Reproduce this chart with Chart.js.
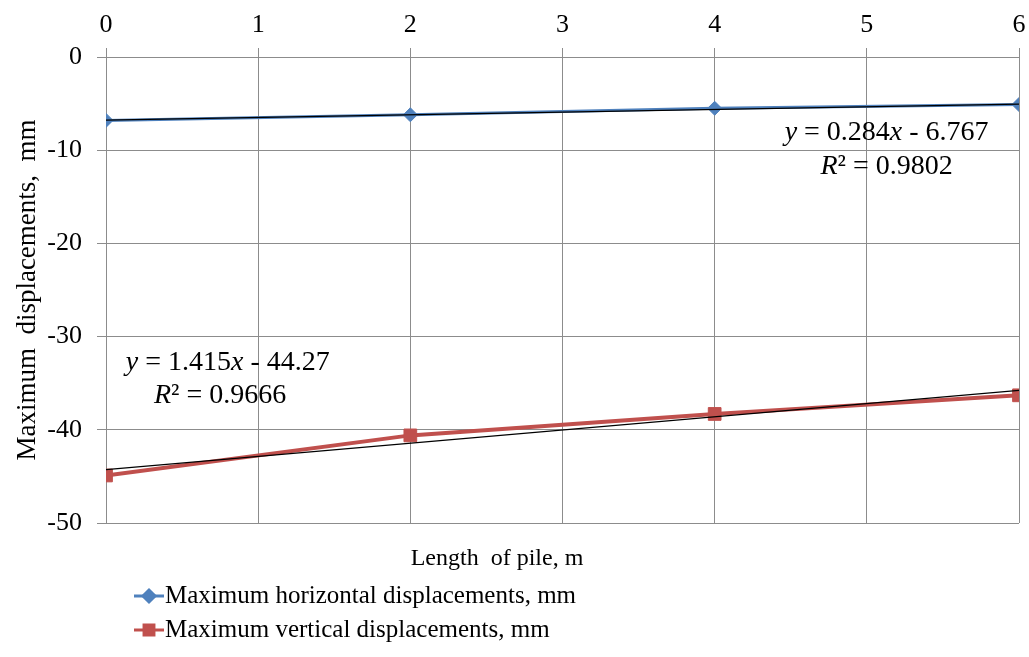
<!DOCTYPE html>
<html>
<head>
<meta charset="utf-8">
<script src="https://cdn.jsdelivr.net/npm/chart.js@4.4.1/dist/chart.umd.min.js"></script>
<style>
  html, body { margin: 0; padding: 0; background: #fff; }
  #wrap { width: 1029px; height: 657px; }
</style>
</head>
<body>
<div id="wrap"><canvas id="chart"></canvas></div>
<script>
// values
const pileLength = [0, 2, 4, 6];
const horizontalDisp = [-6.8, -6.2, -5.5, -5.1];
const verticalDisp = [-44.9, -40.6, -38.3, -36.3];

// linear trendlines (end points from the printed equations)
const trendX = [0, 6];
const horizontalTrend = [-6.767, -5.063];
const verticalTrend = [-44.27, -35.78];

const seriesNames = ['Maximum horizontal displacements, mm', 'Maximum vertical displacements, mm'];
const equations = ['y = 0.284x - 6.767', 'y = 1.415x - 44.27'];
const rSquared = ['R² = 0.9802', 'R² = 0.9666'];
const xTitle = 'Length  of pile, m';
const yTitle = 'Maximum  displacements,  mm';

const FONT = "'Liberation Serif', 'Times New Roman', serif";
const BLUE = '#4F81BD';
const RED = '#C0504D';
const GRID = '#8c8c8c';

const toPoints = (xs, ys) => xs.map((x, i) => ({ x: x, y: ys[i] }));

// draws text with x, y and R in italics, centred on cx
function drawEquation(ctx, text, cx, cy, size) {
  const parts = text.split(/([xyR])/).filter(s => s.length);
  const fontOf = s => (/^[xyR]$/.test(s) ? 'italic ' : '') + size + 'px ' + FONT;
  let total = 0;
  parts.forEach(s => { ctx.font = fontOf(s); total += ctx.measureText(s).width; });
  let x = cx - total / 2;
  ctx.textAlign = 'left';
  ctx.textBaseline = 'middle';
  ctx.fillStyle = '#000';
  parts.forEach(s => {
    ctx.font = fontOf(s);
    ctx.fillText(s, x, cy);
    x += ctx.measureText(s).width;
  });
}

const extras = {
  id: 'extras',
  afterDraw(chart) {
    const ctx = chart.ctx;
    const xs = chart.scales.x, ys = chart.scales.y;
    ctx.save();

    // trendline labels
    drawEquation(ctx, equations[0], xs.getPixelForValue(5.13), ys.getPixelForValue(-8.15), 28);
    drawEquation(ctx, rSquared[0], xs.getPixelForValue(5.13), ys.getPixelForValue(-11.8), 28);
    drawEquation(ctx, equations[1], xs.getPixelForValue(0.8), ys.getPixelForValue(-32.8), 28);
    drawEquation(ctx, rSquared[1], xs.getPixelForValue(0.75), ys.getPixelForValue(-36.3), 28);

    // x axis title under the plot
    ctx.font = '24px ' + FONT;
    ctx.fillStyle = '#000';
    ctx.textAlign = 'center';
    ctx.textBaseline = 'middle';
    ctx.fillText(xTitle, 497, 559);

    // legend
    const rows = [
      { name: seriesNames[0], color: BLUE, style: 'rectRot', r: 6, y: 596 },
      { name: seriesNames[1], color: RED, style: 'rect', r: 7, y: 630 }
    ];
    rows.forEach(row => {
      ctx.strokeStyle = row.color;
      ctx.lineWidth = 3;
      ctx.beginPath();
      ctx.moveTo(134, row.y);
      ctx.lineTo(164, row.y);
      ctx.stroke();
      ctx.fillStyle = row.color;
      Chart.helpers.drawPoint(ctx, { pointStyle: row.style, radius: row.r, rotation: 0, borderWidth: 1 }, 149, row.y);
      ctx.fill();
      ctx.fillStyle = '#000';
      ctx.font = '25px ' + FONT;
      ctx.textAlign = 'left';
      ctx.textBaseline = 'middle';
      ctx.fillText(row.name, 165, row.y);
    });
    ctx.restore();
  }
};

new Chart(document.getElementById('chart'), {
  type: 'line',
  data: {
    datasets: [
      {
        label: 'Trend horizontal',
        data: toPoints(trendX, horizontalTrend),
        borderColor: '#000',
        borderWidth: 1.2,
        pointRadius: 0,
        order: 0
      },
      {
        label: 'Trend vertical',
        data: toPoints(trendX, verticalTrend),
        borderColor: '#000',
        borderWidth: 1.2,
        pointRadius: 0,
        order: 0
      },
      {
        label: seriesNames[0],
        data: toPoints(pileLength, horizontalDisp),
        borderColor: BLUE,
        backgroundColor: BLUE,
        borderWidth: 3,
        pointStyle: 'rectRot',
        pointRadius: 7,
        pointBorderWidth: 1,
        order: 1
      },
      {
        label: seriesNames[1],
        data: toPoints(pileLength, verticalDisp),
        borderColor: RED,
        backgroundColor: RED,
        borderWidth: 4,
        pointStyle: 'rect',
        pointRadius: 9,
        pointBorderWidth: 1,
        order: 1
      }
    ]
  },
  options: {
    responsive: true,
    maintainAspectRatio: false,
    animation: false,
    layout: { padding: { top: 0, right: 0, bottom: 134, left: 0 } },
    plugins: {
      legend: { display: false },
      tooltip: { enabled: false }
    },
    scales: {
      x: {
        type: 'linear',
        position: 'top',
        min: 0,
        max: 6,
        ticks: { stepSize: 1, padding: 7, color: '#000', font: { family: FONT, size: 26 } },
        grid: { color: GRID, tickLength: 9, tickColor: GRID },
        border: { color: GRID },
        afterFit(scale) {
          scale.height = 57;
          scale.paddingLeft = 0;
          scale.paddingRight = 8;
        }
      },
      y: {
        min: -50,
        max: 0,
        ticks: { stepSize: 10, padding: 15, color: '#000', font: { family: FONT, size: 26 } },
        grid: { color: GRID, tickLength: 9, tickColor: GRID },
        border: { color: GRID },
        title: {
          display: true,
          text: yTitle,
          color: '#000',
          font: { family: FONT, size: 27 },
          padding: { top: 12, bottom: 8 }
        },
        afterFit(scale) { scale.width = 106; }
      }
    }
  },
  plugins: [extras]
});
</script>
</body>
</html>
